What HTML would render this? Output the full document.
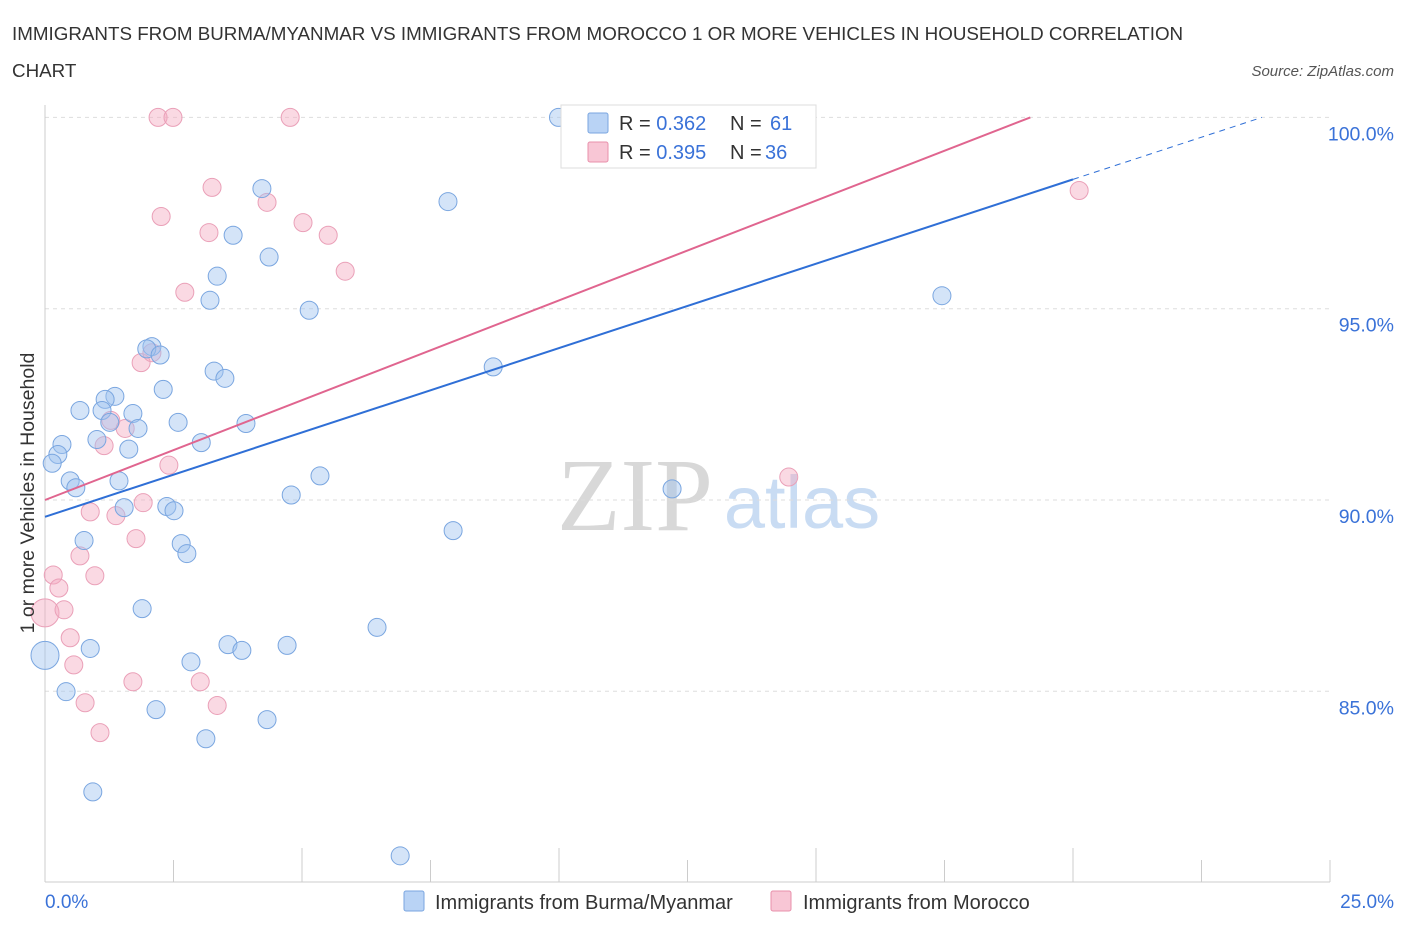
<!DOCTYPE html>
<html><head><meta charset="utf-8"><style>
body{margin:0;background:#fff;font-family:"Liberation Sans",sans-serif;}
</style></head><body>
<svg width="1406" height="930" xmlns="http://www.w3.org/2000/svg" id="svg">
<text x="12" y="40" font-size="18.8" fill="#333">IMMIGRANTS FROM BURMA/MYANMAR VS IMMIGRANTS FROM MOROCCO 1 OR MORE VEHICLES IN HOUSEHOLD CORRELATION</text>
<text x="12" y="77" font-size="18.8" fill="#333">CHART</text>
<text x="1394" y="76" font-size="15" fill="#555" font-style="italic" text-anchor="end">Source: ZipAtlas.com</text>
<text x="635" y="530" font-size="104" fill="#d8d8d8" font-family="Liberation Serif,serif" text-anchor="middle">ZIP</text>
<text x="802" y="528" font-size="74" fill="#c9dcf3" text-anchor="middle">atlas</text>
<g id="grid"></g>
<g id="pts"></g>
<g id="lines"></g>
<text transform="translate(34,493) rotate(-90)" font-size="19.5" fill="#333" text-anchor="middle">1 or more Vehicles in Household</text>
<text x="45" y="908" font-size="19" fill="#3a72d8">0.0%</text>
<text x="1394" y="908" font-size="19" fill="#3a72d8" text-anchor="end">25.0%</text>
<g>
<rect x="561" y="105" width="255" height="63" fill="#fff" stroke="#ddd"/>
<rect x="588" y="113" width="20" height="20" fill="#b9d3f5" stroke="#7aa6e0" rx="2"/>
<text x="619" y="130" font-size="20" fill="#333">R = <tspan fill="#3a72d8">0.362</tspan></text>
<text x="730" y="130" font-size="20" fill="#333">N =</text>
<text x="770" y="130" font-size="20" fill="#3a72d8">61</text>
<rect x="588" y="142" width="20" height="20" fill="#f8c6d5" stroke="#e890ab" rx="2"/>
<text x="619" y="159" font-size="20" fill="#333">R = <tspan fill="#3a72d8">0.395</tspan></text>
<text x="730" y="159" font-size="20" fill="#333">N =</text>
<text x="765" y="159" font-size="20" fill="#3a72d8">36</text>
</g>
<g>
<rect x="404" y="891" width="20" height="20" fill="#b9d3f5" stroke="#7aa6e0" rx="2"/>
<text x="435" y="909" font-size="20" fill="#333">Immigrants from Burma/Myanmar</text>
<rect x="771" y="891" width="20" height="20" fill="#f8c6d5" stroke="#e890ab" rx="2"/>
<text x="803" y="909" font-size="20" fill="#333">Immigrants from Morocco</text>
</g>
</svg>
<script>
const yTicks=[85,90,95,100];
const xTicksCount=10;
const blueX=[9.99,12.80,4.22,7.84,3.66,4.36,3.35,3.21,5.14,17.45,2.08,1.98,2.24,8.72,3.29,3.50,2.30,1.36,1.17,0.68,1.11,1.71,1.26,1.81,2.59,3.91,1.01,0.33,3.04,0.25,0.14,1.63,0.49,0.60,1.44,5.35,4.79,1.54,2.37,2.51,12.20,7.94,0.76,2.65,2.76,1.89,6.46,0.88,3.56,3.83,4.71,0.00,2.84,0.41,2.16,4.32,3.13,0.93,6.91];
const blueY=[100.0,100.0,98.14,97.80,96.92,96.35,95.85,95.22,94.96,95.34,94.01,93.95,93.79,93.48,93.37,93.18,92.89,92.71,92.63,92.34,92.34,92.26,92.03,91.87,92.03,92.00,91.58,91.45,91.50,91.19,90.96,91.33,90.50,90.32,90.50,90.63,90.13,89.80,89.83,89.72,90.29,89.20,88.94,88.86,88.60,87.16,86.67,86.12,86.22,86.07,86.20,85.94,85.77,84.99,84.52,84.26,83.76,82.37,80.70];
const blueR=[9,9,9,9,9,9,9,9,9,9,9,9,9,9,9,9,9,9,9,9,9,9,9,9,9,9,9,9,9,9,9,9,9,9,9,9,9,9,9,9,9,9,9,9,9,9,9,9,9,9,9,14,9,9,9,9,9,9,9];
const pinkX=[2.20,2.49,4.77,3.25,2.26,4.32,3.19,5.02,5.51,5.84,2.72,1.87,2.08,1.28,1.56,1.15,2.41,1.91,0.88,1.38,1.77,0.68,0.16,0.27,0.97,0.00,0.37,0.49,0.56,1.71,3.02,0.78,3.35,1.07,14.47,20.12];
const pinkY=[100.0,100.0,100.0,98.17,97.41,97.78,96.99,97.25,96.92,95.98,95.43,93.59,93.85,92.08,91.87,91.42,90.91,89.93,89.69,89.59,88.99,88.54,88.04,87.70,88.02,87.05,87.13,86.40,85.69,85.25,85.25,84.70,84.63,83.92,90.60,98.09];
const pinkR=[9,9,9,9,9,9,9,9,9,9,9,9,9,9,9,9,9,9,9,9,9,9,9,9,9,14,9,9,9,9,9,9,9,9,9,9];
const blueTrend=[[0,89.56],[20,98.38]];
const pinkTrend=[[0,90.0],[19.17,100.0]];
const X0=45,X1=1330,Y100=117.4,PX5=191.3;
const sx=v=>X0+(v/25)*(X1-X0);
const sy=v=>Y100+(100-v)/5*PX5;
const NS="http://www.w3.org/2000/svg";
function mk(t,a,p){const e=document.createElementNS(NS,t);for(const k in a)e.setAttribute(k,a[k]);p.appendChild(e);return e;}
const grid=document.getElementById('grid');
yTicks.forEach(t=>{
 const l=mk('line',{x1:X0,x2:1330,y1:sy(t),y2:sy(t),stroke:'#ddd','stroke-dasharray':'4,4'},grid);
 
 
 const tx=mk('text',{x:1394,y:sy(t)+23,'font-size':19.5,fill:'#3a72d8','text-anchor':'end'},grid);
 tx.textContent=t.toFixed(1)+'%';
 
 
});
mk('line',{x1:X0,x2:X0,y1:105,y2:882,stroke:'#ccc'},grid);
mk('line',{x1:X0,x2:1330,y1:882,y2:882,stroke:'#ccc'},grid);
for(let i=0;i<=xTicksCount;i++){const x=sx(i*25/xTicksCount);
 const tk=mk('line',{x1:x,x2:x,y1:(i%2==0&&i>0&&i<10)?848:860,y2:882,stroke:'#ccc'},grid);
 
 }
const pts=document.getElementById('pts');
pinkX.forEach((v,i)=>{const c=mk('circle',{cx:sx(v),cy:sy(pinkY[i]),r:pinkR[i],fill:'rgba(244,170,194,0.45)',stroke:'#eaa0b8','stroke-width':1},pts);
 
 });
blueX.forEach((v,i)=>{const c=mk('circle',{cx:sx(v),cy:sy(blueY[i]),r:blueR[i],fill:'rgba(160,195,240,0.45)',stroke:'#7aa6e0','stroke-width':1},pts);
 
 });
const lines=document.getElementById('lines');
const bs=(blueTrend[1][1]-blueTrend[0][1])/(blueTrend[1][0]-blueTrend[0][0]);
const bl=mk('line',{x1:sx(0),y1:sy(blueTrend[0][1]),x2:sx(20),y2:sy(blueTrend[0][1]+bs*20),stroke:'#2f6fd6','stroke-width':2},lines);


const xe=(100-blueTrend[0][1])/bs;
const bd=mk('line',{x1:sx(20),y1:sy(blueTrend[0][1]+bs*20),x2:sx(xe),y2:sy(100),stroke:'#2f6fd6','stroke-width':1,'stroke-dasharray':'6,5'},lines);


const pl=mk('line',{x1:sx(pinkTrend[0][0]),y1:sy(pinkTrend[0][1]),x2:sx(pinkTrend[1][0]),y2:sy(pinkTrend[1][1]),stroke:'#e0658f','stroke-width':2},lines);


</script>
</body></html>
